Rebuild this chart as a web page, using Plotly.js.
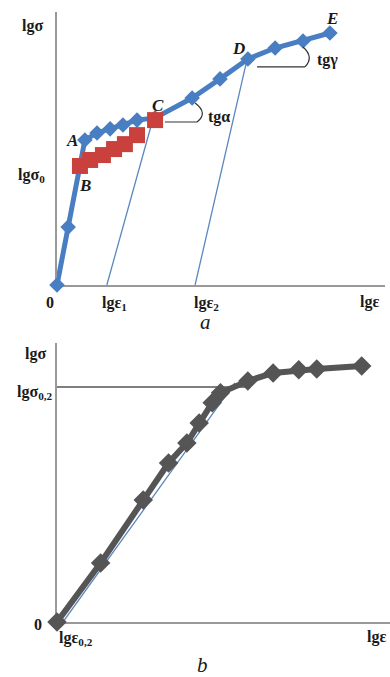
<!DOCTYPE html>
<html>
<head>
<meta charset="utf-8">
<script src="https://cdn.plot.ly/plotly-3.0.1.min.js"></script>
<style>html,body{margin:0;padding:0;background:#fff;}#chart{width:390px;height:677px;}</style>
</head>
<body>
<div id="chart"></div>
<script>
// ---- Panel a (arbitrary lg units) ----
const curveX = [0, 0.34, 0.85, 1.22, 1.62, 2.01, 2.44, 2.99, 4.12, 4.97, 5.82, 6.65, 7.50, 8.32];
const curveY = [0, 2.12, 5.31, 5.57, 5.72, 5.86, 6.04, 6.12, 6.85, 7.55, 8.28, 8.68, 8.94, 9.23];
const stepX = [0.70, 1.01, 1.40, 1.74, 2.07, 2.44, 2.99];
const stepY = [4.36, 4.58, 4.76, 4.98, 5.16, 5.49, 6.04];
const tangent1X = [1.52, 2.90];
const tangent1Y = [0, 5.97];
const tangent2X = [4.21, 5.79];
const tangent2Y = [0, 8.24];
const lgSigma0 = 4.10;
const pointLabels = ['A', 'B', 'C', 'D', 'E'];
const pointLabelX = [0.46, 0.85, 3.08, 5.52, 8.38];
const pointLabelY = [5.31, 3.66, 6.59, 8.68, 9.78];
const axisLabelsA = ['lgσ', 'lgσ<sub>0</sub>', '0', 'lgε<sub>1</sub>', 'lgε<sub>2</sub>', 'lgε'];

// ---- Panel b ----
const curve2X = [0, 1.31, 2.59, 3.35, 3.90, 4.27, 4.66, 4.91, 5.73, 6.49, 7.26, 7.80, 9.15];
const curve2Y = [0, 2.13, 4.40, 5.74, 6.46, 7.18, 7.91, 8.27, 8.70, 8.99, 9.10, 9.13, 9.24];
const offsetLineX = [0.18, 5.34];
const offsetLineY = [0, 8.63];
const lgSigma02 = 8.48;
const lgSigma02End = 5.73;
const axisLabelsB = ['lgσ', 'lgσ<sub>0,2</sub>', '0', 'lgε<sub>0,2</sub>', 'lgε'];

const FONT = 'Liberation Serif, Times New Roman, serif';
const blue = '#4a7ec2';
const red = '#c9403d';
const thinBlue = '#5a87bf';
const gray = '#555555';
const W = 390, H = 677;

const traces = [
  {x: tangent1X, y: tangent1Y, xaxis: 'x', yaxis: 'y', mode: 'lines', line: {color: thinBlue, width: 1.3}, cliponaxis: false, hoverinfo: 'skip'},
  {x: tangent2X, y: tangent2Y, xaxis: 'x', yaxis: 'y', mode: 'lines', line: {color: thinBlue, width: 1.3}, cliponaxis: false, hoverinfo: 'skip'},
  {x: curveX, y: curveY, xaxis: 'x', yaxis: 'y', mode: 'lines+markers', line: {color: blue, width: 5},
   marker: {symbol: 'diamond', size: 12, color: blue}, cliponaxis: false},
  {x: stepX, y: stepY, xaxis: 'x', yaxis: 'y', mode: 'markers', marker: {symbol: 'square', size: 16, color: red}, cliponaxis: false},
  {x: offsetLineX, y: offsetLineY, xaxis: 'x2', yaxis: 'y2', mode: 'lines', line: {color: thinBlue, width: 1.3}, cliponaxis: false, hoverinfo: 'skip'},
  {x: curve2X, y: curve2Y, xaxis: 'x2', yaxis: 'y2', mode: 'lines+markers', line: {color: gray, width: 6},
   marker: {symbol: 'diamond', size: 15, color: gray}, cliponaxis: false}
];

const boldFont = {family: FONT, size: 16, color: '#1a1a1a', weight: 'bold'};
function ann(text, x, y, ref, opts) {
  return Object.assign({text: text, x: x, y: y, xref: 'x' + ref, yref: 'y' + ref, showarrow: false,
    font: boldFont, xanchor: 'center', yanchor: 'middle'}, opts || {});
}
// labels placed outside the plotting area (paper coordinates from pixel positions)
function pann(text, px, py, opts) {
  return Object.assign({text: text, x: px / W, y: 1 - py / H, xref: 'paper', yref: 'paper', showarrow: false,
    font: boldFont, xanchor: 'center', yanchor: 'middle'}, opts || {});
}
const italicFont = {family: FONT, size: 21, color: '#1a1a1a', style: 'italic'};

const annotations = [
  pann(axisLabelsA[0], 32, 26),
  pann(axisLabelsA[1], 47, 175, {xanchor: 'right'}),
  pann(axisLabelsA[2], 50, 302),
  pann(axisLabelsA[3], 114, 303),
  pann(axisLabelsA[4], 206, 303),
  pann(axisLabelsA[5], 369, 302),
  pann('a', 205, 322, {font: italicFont}),
  ann('tgα', 4.94, 6.15, ''),
  ann('tgγ', 8.26, 8.24, ''),
  pann(axisLabelsB[0], 35, 354),
  pann(axisLabelsB[1], 55, 392, {xanchor: 'right'}),
  pann(axisLabelsB[2], 38, 624),
  pann(axisLabelsB[3], 76, 638),
  pann(axisLabelsB[4], 376, 637),
  pann('b', 202, 665, {font: italicFont})
];
pointLabels.forEach((t, i) => {
  annotations.push(ann(t, pointLabelX[i], pointLabelY[i], '',
    {font: {family: FONT, size: 17, color: '#1a1a1a', weight: 'bold', style: 'italic'}}));
});

const darkLine = {color: '#333', width: 1.2};
const shapes = [
  {type: 'line', xref: 'x', yref: 'y', x0: -0.24, x1: 0, y0: lgSigma0, y1: lgSigma0, line: {color: '#666', width: 1.5}},
  {type: 'line', xref: 'x', yref: 'y', x0: 3.29, x1: 4.27, y0: 5.97, y1: 5.97, line: darkLine},
  {type: 'path', xref: 'x', yref: 'y', path: 'M4.27,5.97 Q4.62,6.3 4.21,6.67', line: darkLine},
  {type: 'line', xref: 'x', yref: 'y', x0: 6.10, x1: 7.56, y0: 7.99, y1: 7.99, line: darkLine},
  {type: 'path', xref: 'x', yref: 'y', path: 'M7.56,7.99 Q7.85,8.35 7.50,8.72', line: darkLine},
  {type: 'line', xref: 'x2', yref: 'y2', x0: 0, x1: lgSigma02End, y0: lgSigma02, y1: lgSigma02, line: {color: gray, width: 1.5}, layer: 'below'}
];

const axisBase = {showgrid: false, zeroline: false, showticklabels: false, ticks: '', showline: true,
  linecolor: '#999', linewidth: 2, range: [0, 10], fixedrange: true, layer: 'below traces'};

const layout = {
  width: W, height: H, margin: {l: 0, r: 0, t: 0, b: 0},
  paper_bgcolor: '#fff', plot_bgcolor: '#fff', showlegend: false,
  xaxis: Object.assign({}, axisBase, {domain: [57/W, 385/W], anchor: 'y'}),
  yaxis: Object.assign({}, axisBase, {domain: [1 - 285/H, 1 - 12/H], anchor: 'x'}),
  xaxis2: Object.assign({}, axisBase, {domain: [57/W, 1], anchor: 'y2'}),
  yaxis2: Object.assign({}, axisBase, {domain: [1 - 622/H, 1 - 343/H], anchor: 'x2', range: [0, 10.07]}),
  annotations: annotations, shapes: shapes
};

Plotly.newPlot('chart', traces, layout, {staticPlot: true});
</script>
</body>
</html>
